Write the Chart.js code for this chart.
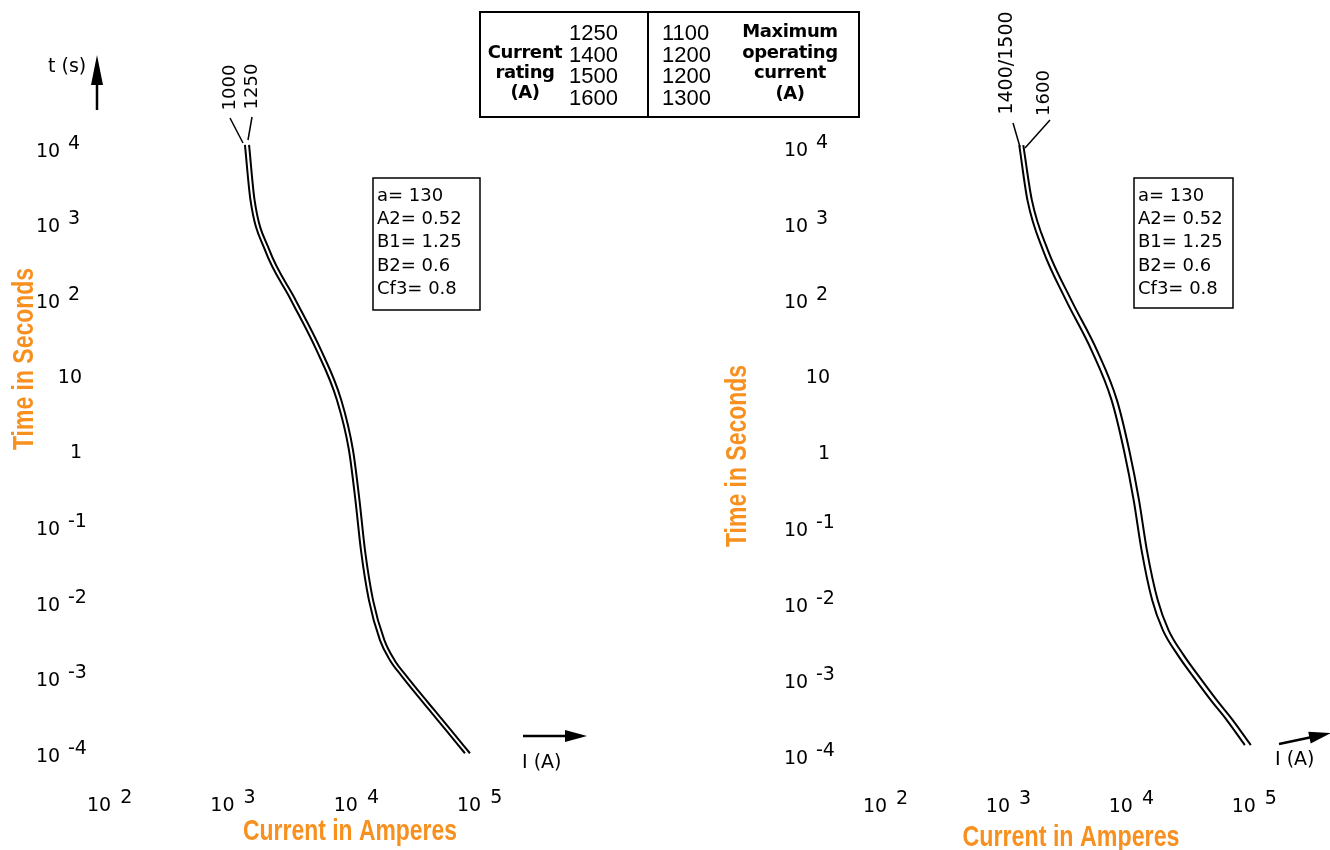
<!DOCTYPE html>
<html lang="en">
<head>
<meta charset="UTF-8">
<title>Fuse time-current characteristics</title>
<script src="https://cdn.jsdelivr.net/npm/chart.js"></script>
<style>
    body {
        margin: 0;
        background: #fff;
    }
    #page {
        position: relative;
        width: 1330px;
        height: 850px;
        overflow: hidden;
        background: #fff;
    }
    canvas {
        position: absolute;
        top: 0;
    }
    #leftChart { left: 0; }
    #rightChart { left: 665px; }

    /* ratings table at the top */
    #ratings {
        position: absolute;
        left: 479px;
        top: 11px;
        width: 381px;
        height: 107px;
        border: 2px solid #000;
        box-sizing: border-box;
        color: #000;
    }
    #ratings .divider {
        position: absolute;
        left: 166px;
        top: 0;
        bottom: 0;
        border-left: 2px solid #000;
    }
    .hdr {
        position: absolute;
        font: bold 18px "DejaVu Sans", sans-serif;
        text-align: center;
        letter-spacing: -0.4px;
    }
    .num {
        position: absolute;
        font: 22px "Liberation Sans", sans-serif;
        line-height: 21.7px;
    }
</style>
</head>
<body>
<div id="page">
    <canvas id="leftChart" width="665" height="850"></canvas>
    <canvas id="rightChart" width="665" height="850"></canvas>

    <div id="ratings">
        <div class="hdr" style="left:0; width:88px; top:29px; line-height:20px;">Current<br>rating<br>(A)</div>
        <div class="num" id="ratingCol" style="left:88px; top:9px;"></div>
        <div class="divider"></div>
        <div class="num" id="maxCol" style="left:181px; top:9px;"></div>
        <div class="hdr" style="left:244px; width:130px; top:8px; line-height:20.7px;">Maximum<br>operating<br>current<br>(A)</div>
    </div>
</div>

<script>
    // ---- data ----
    const currentRatings = [1250, 1400, 1500, 1600];
    const maxOperating = [1100, 1200, 1200, 1300];

    const xTickExps = [2, 3, 4, 5];                      // 10^2 .. 10^5 A
    const yTickExps = [4, 3, 2, 1, 0, -1, -2, -3, -4];   // 10^4 .. 10^-4 s

    const paramLines = ['a= 130', 'A2= 0.52', 'B1= 1.25', 'B2= 0.6', 'Cf3= 0.8'];

    // left panel: 1000 A and 1250 A (time in s, current in A)
    const leftTimes = [10860, 2035, 444, 97.0, 21.2, 4.62, 1.01, 0.2203, 0.0481, 0.0105,
        0.00311, 0.00169, 0.001071, 0.000678, 0.000369, 0.0002008, 0.0000997];
    const curr1000 = [1250, 1385, 1815, 2950, 4745, 6960, 8710, 9830, 10900, 12650,
        15540, 18730, 23000, 28770, 39160, 53290, 75990];
    const curr1250 = [1350, 1495, 1970, 3215, 5165, 7545, 9390, 10600, 11750, 13660,
        16880, 20420, 25160, 31530, 42960, 58510, 83440];

    // right panel: 1400/1500 A and 1600 A
    const rightTimes = [10590, 2000, 440, 96.7, 21.27, 4.67, 1.03, 0.2259, 0.0497, 0.01092,
        0.0044, 0.002063, 0.000967, 0.000528, 0.000288, 0.000135];
    const curr1500 = [1224, 1427, 1908, 2935, 4730, 6902, 8690, 10440, 12100, 14760,
        18040, 23880, 33450, 44290, 59760, 83730];
    const curr1600 = [1320, 1550, 2090, 3245, 5240, 7630, 9600, 11540, 13370, 16380,
        20060, 26630, 37360, 49520, 66810, 93610];

    // ---- ratings table ----
    document.getElementById('ratingCol').innerHTML = currentRatings.join('<br>');
    document.getElementById('maxCol').innerHTML = maxOperating.join('<br>');

    // ---- drawing helpers ----
    const ORANGE = '#f7901e';
    const TICK_FONT = '19px "DejaVu Sans", sans-serif';

    function fitText(ctx, text, cx, cy, targetW, rot) {
        ctx.save();
        ctx.font = 'bold 30px "Liberation Sans", Arial, sans-serif';
        const w = ctx.measureText(text).width;
        ctx.translate(cx, cy);
        ctx.rotate(rot);
        ctx.scale(targetW / w, 1);
        ctx.textAlign = 'center';
        ctx.textBaseline = 'alphabetic';
        ctx.fillStyle = ORANGE;
        ctx.fillText(text, 0, 0);
        ctx.restore();
    }

    function rotLabel(ctx, text, cx, cy, size) {
        ctx.save();
        ctx.font = size + 'px "DejaVu Sans", sans-serif';
        ctx.translate(cx, cy);
        ctx.rotate(-Math.PI / 2);
        ctx.textAlign = 'center';
        ctx.textBaseline = 'middle';
        ctx.fillText(text, 0, 0);
        ctx.restore();
    }

    function line(ctx, x1, y1, x2, y2, w) {
        ctx.lineWidth = w;
        ctx.beginPath();
        ctx.moveTo(x1, y1);
        ctx.lineTo(x2, y2);
        ctx.stroke();
    }

    function arrow(ctx, x1, y1, x2, y2, headLen, headW) {
        const a = Math.atan2(y2 - y1, x2 - x1);
        line(ctx, x1, y1, x2 - Math.cos(a) * headLen * 0.6, y2 - Math.sin(a) * headLen * 0.6, 2.5);
        ctx.beginPath();
        ctx.moveTo(x2, y2);
        ctx.lineTo(x2 - Math.cos(a) * headLen - Math.sin(a) * headW, y2 - Math.sin(a) * headLen + Math.cos(a) * headW);
        ctx.lineTo(x2 - Math.cos(a) * headLen + Math.sin(a) * headW, y2 - Math.sin(a) * headLen - Math.cos(a) * headW);
        ctx.closePath();
        ctx.fill();
    }

    // per-panel decorations, canvas-local coordinates
    const DECO = {
        leftChart: {
            yLabelLeft: 36, yLabelRight: 82, xLabelBase: 811,
            yTitle: [33, 359, 182], xTitle: [350, 840, 214],
            box: [373, 178, 107, 132],
            curveLabels: [['1000', 230.5, 87.5, 18], ['1250', 252.5, 86.5, 18]],
            leaders: [[230, 118, 243, 143], [252, 117, 248, 140]],
            iArrow: [523, 736, 587, 736], iText: [522, 768]
        },
        rightChart: {
            yLabelLeft: 119, yLabelRight: 165, xLabelBase: 812,
            yTitle: [81, 456, 182], xTitle: [406, 846, 217],
            box: [469, 178, 99, 130],
            curveLabels: [['1400/1500', 342.5, 63, 19], ['1600', 379, 93, 18]],
            leaders: [[348, 123, 355, 147], [385, 120, 360, 148]],
            iArrow: [614, 744, 666, 733], iText: [610, 765]
        }
    };

    const decorPlugin = {
        id: 'decor',
        afterDraw(chart) {
            const d = DECO[chart.canvas.id];
            const ctx = chart.ctx;
            const xs = chart.scales.x;
            const ys = chart.scales.y;
            ctx.save();
            ctx.fillStyle = '#000';
            ctx.strokeStyle = '#000';
            ctx.textBaseline = 'alphabetic';
            ctx.font = TICK_FONT;

            // y tick labels
            yTickExps.forEach(e => {
                const py = ys.getPixelForValue(Math.pow(10, e));
                if (e === 0 || e === 1) {
                    ctx.textAlign = 'right';
                    ctx.fillText(e === 1 ? '10' : '1', d.yLabelRight, py + 8);
                } else {
                    ctx.textAlign = 'left';
                    ctx.fillText('10', d.yLabelLeft, py + 9);
                    ctx.fillText(String(e), d.yLabelLeft + 32, py + 1);
                }
            });

            // x tick labels
            ctx.textAlign = 'left';
            xTickExps.forEach(e => {
                const px = xs.getPixelForValue(Math.pow(10, e));
                const w10 = ctx.measureText('10').width;
                const we = ctx.measureText(String(e)).width;
                const start = px - (w10 + 9 + we) / 2;
                ctx.fillText('10', start, d.xLabelBase);
                ctx.fillText(String(e), start + w10 + 9, d.xLabelBase - 8);
            });

            // parameter box
            const [bx, by, bw, bh] = d.box;
            ctx.lineWidth = 1.5;
            ctx.strokeRect(bx, by, bw, bh);
            ctx.font = '18px "DejaVu Sans", sans-serif';
            paramLines.forEach((t, i) => ctx.fillText(t, bx + 4, by + 23 + i * 23.2));

            // curve labels and leader lines
            d.curveLabels.forEach(c => rotLabel(ctx, c[0], c[1], c[2], c[3]));
            d.leaders.forEach(l => line(ctx, l[0], l[1], l[2], l[3], 1.5));

            // I (A) arrow
            const ia = d.iArrow;
            arrow(ctx, ia[0], ia[1], ia[2], ia[3], 22, 6);
            ctx.font = '19px "DejaVu Sans", sans-serif';
            ctx.fillText('I (A)', d.iText[0], d.iText[1]);

            // t (s) arrow only on the left panel
            if (chart.canvas.id === 'leftChart') {
                arrow(ctx, 97, 110, 97, 55, 30, 6);
                ctx.font = '19px "DejaVu Sans", sans-serif';
                ctx.fillText('t (s)', 48, 72);
            }

            // orange axis titles
            fitText(ctx, 'Time in Seconds', d.yTitle[0], d.yTitle[1], d.yTitle[2], -Math.PI / 2);
            fitText(ctx, 'Current in Amperes', d.xTitle[0], d.xTitle[1], d.xTitle[2], 0);
            ctx.restore();
        }
    };

    function curve(currents, times) {
        return {
            data: currents.map((c, i) => ({ x: c, y: times[i] })),
            borderColor: '#000',
            borderWidth: 2,
            pointRadius: 0,
            cubicInterpolationMode: 'monotone',
            fill: false
        };
    }

    function makeChart(id, datasets, xMax, padding) {
        return new Chart(document.getElementById(id), {
            type: 'line',
            data: { datasets: datasets },
            options: {
                responsive: false,
                animation: false,
                devicePixelRatio: 1,
                layout: { padding: padding },
                scales: {
                    x: { type: 'logarithmic', min: Math.pow(10, 1.8), max: xMax, display: false },
                    y: { type: 'logarithmic', min: Math.pow(10, -4.5), max: Math.pow(10, 5.5), display: false }
                },
                plugins: {
                    legend: { display: false },
                    tooltip: { enabled: false }
                }
            },
            plugins: [decorPlugin]
        });
    }

    makeChart('leftChart', [curve(curr1000, leftTimes), curve(curr1250, leftTimes)],
        Math.pow(10, 6), { left: 85, right: 62, top: 34, bottom: 59 });
    makeChart('rightChart', [curve(curr1500, rightTimes), curve(curr1600, rightTimes)],
        Math.pow(10, 5.6), { left: 196, right: 2, top: 33, bottom: 57 });
</script>
</body>
</html>
